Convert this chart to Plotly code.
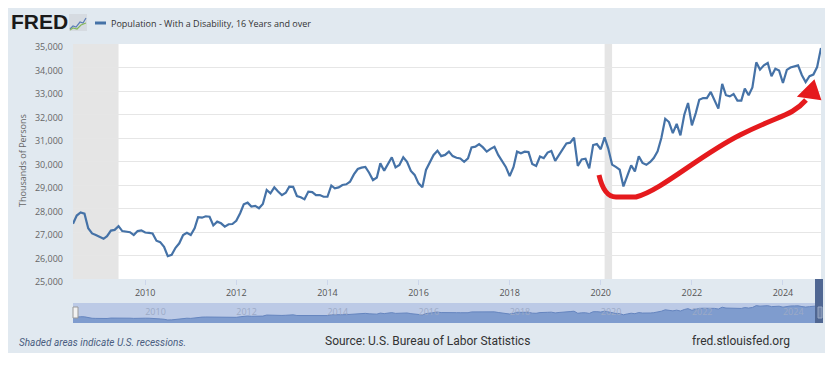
import pandas as pd
import plotly.graph_objects as go

# ---------------- data ----------------
start_month = "2008-06-01"
values = [
    27350, 27700, 27830, 27780, 27160, 26940, 26870, 26790, 26710, 26820,
    27060, 27090, 27250, 27040, 27000, 26990, 26870, 27040, 27070, 26980,
    26960, 26940, 26630, 26570, 26370, 25970, 26030, 26330, 26520, 26870,
    26970, 26870, 27160, 27630, 27610, 27670, 27650, 27280, 27440, 27370,
    27230, 27330, 27340, 27480, 27800, 28180, 28250, 28080, 28110, 28010,
    28190, 28790, 28650, 28900, 28720, 28570, 28670, 28930, 28920, 28530,
    28480, 28390, 28720, 28700, 28570, 28570, 28500, 28500, 28980, 28860,
    28900, 29000, 29030, 29140, 29450, 29680, 29740, 29770, 29520, 29210,
    29320, 29920, 29610, 29920, 30180, 29750, 29850, 30180, 29990, 29600,
    29430, 29070, 28900, 29640, 29970, 30280, 30460, 30230, 30280, 30420,
    30230, 30160, 30130, 29990, 30130, 30600, 30630, 30740, 30600, 30420,
    30540, 30630, 30280, 30030, 29770, 29380, 29770, 30420, 30350, 30420,
    30400, 29890, 29810, 30210, 30140, 30380, 30450, 30030, 30280, 30560,
    30770, 30800, 31010, 29810, 30090, 30120, 29710, 30700, 30740, 30520,
    31030, 30560, 29870, 29770, 29650, 28940, 29440, 29840, 29580, 30220,
    29940, 29860, 29980, 30150, 30430, 31000, 31820, 31680, 31210, 31600,
    31110, 31990, 32490, 31540, 32060, 32630, 32700, 32700, 32960, 32630,
    32250, 33300, 32820, 32770, 32870, 32590, 32590, 33100, 32820, 33150,
    34220, 33910, 34090, 34190, 33630, 33950, 33870, 33340, 33900, 34000,
    34050, 34090, 33670, 33380, 33630, 33700, 34020, 34830,
]
dates = pd.date_range(start_month, periods=len(values), freq="MS")

recession_starts = ["2008-06-01", "2020-02-01"]
recession_ends = ["2009-06-01", "2020-04-01"]

x_tick_vals = [f"{y}-01-01" for y in range(2010, 2025, 2)]
x_tick_text = [str(y) for y in range(2010, 2025, 2)]
y_tick_vals = list(range(25000, 35001, 1000))
y_tick_text = [f"{v:,}" for v in y_tick_vals]

series_name = "Population - With a Disability, 16 Years and over"

# ---------------- layout geometry (page pixels) ----------------
OFF = 8                      # browser body margin
PAGE_W, PAGE_H = 833, 365
W, H = PAGE_W - OFF, PAGE_H - OFF
PLOT_L, PLOT_R = 73, 821     # page x of plot edges
PLOT_T, MAIN_B = 44, 279     # page y of main plot top / bottom
NAV_T, NAV_B = 303, 323      # page y of navigator top / bottom

L = PLOT_L - OFF
R = W - (PLOT_R - OFF)
T = PLOT_T - OFF
B = H - (NAV_B - OFF)
PW, PH = W - L - R, H - T - B


def P(x, y):
    """page pixel -> paper coords"""
    return (x - OFF - L) / PW, (H - B - (y - OFF)) / PH


BG = "#e1e9f0"
BLUE = "#4572a7"

fig = go.Figure()

fig.add_trace(go.Scatter(
    x=dates, y=values, mode="lines", name=series_name,
    line=dict(color=BLUE, width=2.2), xaxis="x", yaxis="y",
    showlegend=False, hoverinfo="skip",
))
# navigator
fig.add_trace(go.Scatter(
    x=dates, y=values, mode="lines", fill="tozeroy",
    fillcolor="#7f9cce", line=dict(color="#6585bf", width=1),
    xaxis="x2", yaxis="y2", showlegend=False, hoverinfo="skip",
))

shapes = []
# overall FRED background
x0, y0 = P(OFF, OFF)
x1, y1 = P(825, 353)
shapes.append(dict(type="rect", xref="paper", yref="paper", x0=x0, x1=x1,
                   y0=y1, y1=y0, fillcolor=BG, line=dict(width=0), layer="below"))
# main plot white area
shapes.append(dict(type="rect", xref="x domain", yref="y domain", x0=0, x1=1,
                   y0=0, y1=1, fillcolor="white", line=dict(width=0), layer="below"))
# recessions
for s, e in zip(recession_starts, recession_ends):
    shapes.append(dict(type="rect", xref="x", yref="y domain", x0=s, x1=e,
                       y0=0, y1=1, fillcolor="#e5e5e5", line=dict(width=0),
                       layer="below"))
# navigator mask
shapes.append(dict(type="rect", xref="x2 domain", yref="y2 domain", x0=0, x1=1,
                   y0=0, y1=1, fillcolor="#bccae6", line=dict(width=0),
                   layer="below"))
# navigator right dark strip and handles
a, b = P(815, 279)
c, d = P(823, 323)
shapes.append(dict(type="rect", xref="paper", yref="paper", x0=a, x1=c, y0=d, y1=b,
                   fillcolor="#4f6692", line=dict(width=0)))
a, b = P(818, 307)
c, d = P(822, 318)
shapes.append(dict(type="rect", xref="paper", yref="paper", x0=a, x1=c, y0=d, y1=b,
                   fillcolor="#7083a8", line=dict(color="#9aa9c4", width=1)))
a, b = P(73, 307)
c, d = P(78, 318)
shapes.append(dict(type="rect", xref="paper", yref="paper", x0=a, x1=c, y0=d, y1=b,
                   fillcolor="#f2f2f2", line=dict(color="#999999", width=1)))

# legend line
a, b = P(95, 23)
c, _ = P(106, 23)
shapes.append(dict(type="line", xref="paper", yref="paper", x0=a, x1=c, y0=b, y1=b,
                   line=dict(color=BLUE, width=3)))

# FRED logo icon
a, b = P(69, 14)
c, d = P(87, 31)
shapes.append(dict(type="rect", xref="paper", yref="paper", x0=a, x1=c, y0=d, y1=b,
                   fillcolor="#d6dbe1", line=dict(width=0)))


def path(pts):
    s = ""
    for i, (x, y) in enumerate(pts):
        px, py = P(x, y)
        s += ("M" if i == 0 else "L") + f"{px:.5f},{py:.5f} "
    return s


shapes.append(dict(type="path", xref="paper", yref="paper",
                   path=path([(70, 29), (73, 26), (76, 27), (80, 22), (83, 23), (86, 18)]),
                   line=dict(color="#5b7db6", width=1.2)))
shapes.append(dict(type="path", xref="paper", yref="paper",
                   path=path([(70, 30), (73, 28), (77, 29), (81, 25), (86, 23)]),
                   line=dict(color="#86b85a", width=1.2)))


# red hand-drawn arrow
def cpath(cmds):
    out = ""
    for cmd, pts in cmds:
        out += cmd
        out += " ".join("%.5f,%.5f" % P(x, y) for x, y in pts) + " "
    return out


red_curve = cpath([
    ("M", [(599, 175)]),
    ("Q", [(604, 197), (616, 197)]),
    ("L", [(636, 197)]),
    ("C", [(662, 190), (700, 155), (740, 135)]),
    ("S", [(792, 116), (806, 100)]),
])
shapes.append(dict(type="path", xref="paper", yref="paper", path=red_curve,
                   line=dict(color="#e51a1d", width=5)))
head = cpath([("M", [(799, 96)]), ("L", [(814, 81)]), ("L", [(820, 99)]), ("Z", [])])
shapes.append(dict(type="path", xref="paper", yref="paper", path=head,
                   fillcolor="#e51a1d", line=dict(color="#e51a1d", width=2)))

annotations = []
ax, ay = P(9, 22)
annotations.append(dict(text="<b>FRED</b>", x=ax, y=ay, xref="paper", yref="paper",
                        xanchor="left", yanchor="middle", showarrow=False,
                        font=dict(family="Liberation Sans", size=21, color="#1a1a1a")))
ax, ay = P(109, 23)
annotations.append(dict(text=series_name, x=ax, y=ay, xref="paper", yref="paper",
                        xanchor="left", yanchor="middle", showarrow=False,
                        font=dict(family="Open Sans", size=9, color="#333333")))
ax, ay = P(22, 161)
annotations.append(dict(text="Thousands of Persons", x=ax, y=ay, xref="paper",
                        yref="paper", textangle=-90, showarrow=False,
                        xanchor="center", yanchor="middle",
                        font=dict(family="Open Sans", size=9, color="#666666")))
ax, ay = P(17, 342)
annotations.append(dict(text="<i>Shaded areas indicate U.S. recessions.</i>", x=ax, y=ay,
                        xref="paper", yref="paper", xanchor="left", yanchor="middle",
                        showarrow=False,
                        font=dict(family="Liberation Sans Narrow, Roboto", size=10,
                                  color="#4a5d80")))
ax, ay = P(427, 341)
annotations.append(dict(text="Source: U.S. Bureau of Labor Statistics", x=ax, y=ay,
                        xref="paper", yref="paper", xanchor="center", yanchor="middle",
                        showarrow=False,
                        font=dict(family="Liberation Sans Narrow, Roboto", size=12,
                                  color="#333333")))
ax, ay = P(741, 341)
annotations.append(dict(text="fred.stlouisfed.org", x=ax, y=ay,
                        xref="paper", yref="paper", xanchor="center", yanchor="middle",
                        showarrow=False,
                        font=dict(family="Liberation Sans Narrow, Roboto", size=12,
                                  color="#333333")))

main_bottom = (NAV_B - MAIN_B) / PH
nav_top = (NAV_B - NAV_T) / PH

fig.update_layout(
    width=W, height=H,
    margin=dict(l=L, r=R, t=T, b=B, pad=0),
    paper_bgcolor="white",
    plot_bgcolor="rgba(0,0,0,0)",
    shapes=shapes,
    annotations=annotations,
    xaxis=dict(
        domain=[0, 1], anchor="y",
        range=[dates[0], dates[-1]],
        tickvals=x_tick_vals, ticktext=x_tick_text,
        showgrid=False, zeroline=False, showline=False,
        ticks="outside", ticklen=5, tickcolor="#ccd6eb",
        tickfont=dict(family="Open Sans", size=9, color="#555555"),
    ),
    yaxis=dict(
        domain=[main_bottom, 1], anchor="x",
        range=[25000, 35000],
        tickvals=y_tick_vals, ticktext=y_tick_text,
        showgrid=True, gridcolor="#e6e6e6", gridwidth=1,
        zeroline=False, showline=False, ticks="",
        ticklabelstandoff=9, ticklabelshift=3,
        tickfont=dict(family="Open Sans", size=9, color="#666666"),
    ),
    xaxis2=dict(
        domain=[0, 1], anchor="y2",
        range=[dates[0], dates[-1]],
        tickvals=x_tick_vals, ticktext=x_tick_text,
        ticklabelposition="inside right",
        showgrid=False, zeroline=False, showline=False, ticks="",
        tickfont=dict(family="Open Sans", size=9, color="#9caac6"),
    ),
    yaxis2=dict(
        domain=[0, nav_top], anchor="x2",
        range=[24225, 35725],
        showgrid=False, zeroline=False, showline=False,
        showticklabels=False, ticks="",
    ),
)

fig.write_html("out.html")
